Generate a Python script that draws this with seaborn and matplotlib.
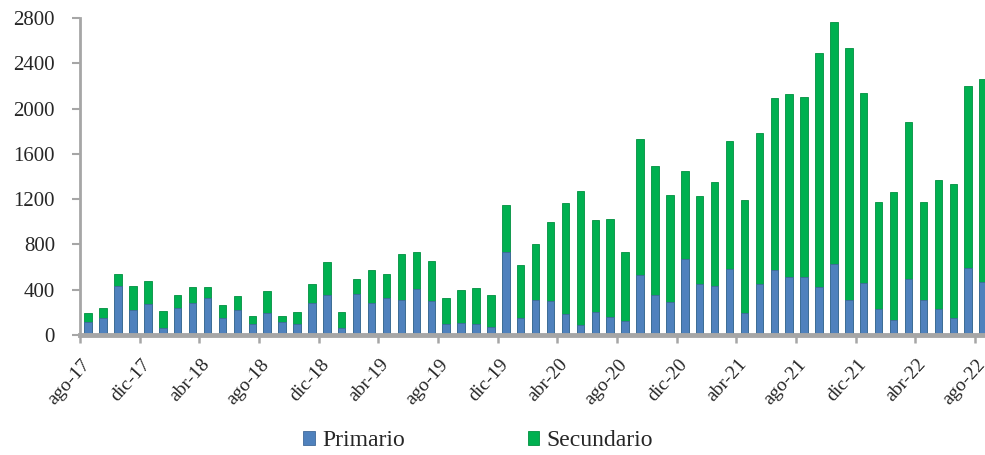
import numpy as np
import pandas as pd
import matplotlib
matplotlib.use("Agg")
import matplotlib.pyplot as plt
import seaborn as sns

sns.set_style("white")
plt.rcParams["font.family"] = ["Liberation Serif", "DejaVu Serif"]

# meses jul-17 ... ago-22 (el primero queda casi oculto tras el eje)
meses = ["ene", "feb", "mar", "abr", "may", "jun", "jul", "ago", "sep", "oct", "nov", "dic"]
fechas = [f"{meses[(6 + i) % 12]}-{17 + (6 + i) // 12}" for i in range(62)]

primario = [350, 112, 147, 436, 221, 274, 59, 241, 285, 330, 147, 221, 97, 197, 118, 94,
            280, 353, 65, 362, 283, 324, 309, 403, 303, 94, 103, 94, 74, 736, 147, 309,
            303, 186, 88, 200, 156, 127, 527, 353, 294, 671, 450, 436, 583, 191, 447, 574,
            509, 515, 421, 627, 309, 456, 227, 133, 495, 309, 230, 147, 595, 465]
secundario = [357, 79, 94, 103, 212, 206, 153, 112, 136, 97, 118, 124, 71, 195, 53, 112,
              167, 289, 138, 131, 294, 213, 406, 333, 354, 230, 294, 324, 279, 412, 471, 495,
              698, 977, 1187, 816, 869, 609, 1204, 1140, 940, 778, 781, 915, 1133, 999, 1334, 1522,
              1617, 1590, 2073, 2138, 2226, 1684, 948, 1130, 1386, 869, 1139, 1187, 1605, 1793]

azul = "#4F81BD"
verde = "#00B050"
gris = "#a6a6a6"

df = pd.DataFrame({"fecha": fechas, "Primario": primario, "Secundario": secundario})
df["Total"] = df["Primario"] + df["Secundario"]

fig = plt.figure(figsize=(9.85, 4.55), dpi=100)
ax = fig.add_axes([80 / 985, 1 - 335 / 455, 1 - 80 / 985, (335 - 18) / 455])

sns.barplot(data=df, x="fecha", y="Total", order=fechas, color=verde, saturation=1,
            width=0.5, ax=ax, label="Secundario", edgecolor="#00903f", linewidth=0.6)
sns.barplot(data=df, x="fecha", y="Primario", order=fechas, color=azul, saturation=1,
            width=0.5, ax=ax, label="Primario", edgecolor="#41699a", linewidth=0.6)

ax.set_xlim(0.45, 61.13)
ax.set_ylim(0, 2800)
ax.set_yticks(range(0, 2801, 400))
ax.set_xlabel("")
ax.set_ylabel("")

# marcas cada 4 meses (entre barras) y etiquetas como ticks menores
tick_idx = list(range(1, 62, 4))
ax.set_xticks([i - 0.55 for i in tick_idx], labels=[""] * len(tick_idx))
ax.set_xticks([i - 0.45 for i in tick_idx], labels=[fechas[i] for i in tick_idx], minor=True)
for lab in ax.get_xticklabels(minor=True):
    lab.set_rotation(48)
    lab.set_ha("right")
    lab.set_va("top")
    lab.set_rotation_mode("anchor")

ax.tick_params(axis="x", which="major", bottom=True, length=6, width=1.8, color=gris)
ax.tick_params(axis="x", which="minor", bottom=True, length=0, pad=15, labelsize=14)
ax.tick_params(axis="y", left=True, length=6, width=1.5, color=gris, pad=12, labelsize=15)

for s in ["top", "right"]:
    ax.spines[s].set_visible(False)
ax.spines["left"].set_color(gris)
ax.spines["left"].set_linewidth(2)
ax.spines["bottom"].set_color(gris)
ax.spines["bottom"].set_linewidth(3.5)

h, l = ax.get_legend_handles_labels()
orden = [l.index("Primario"), l.index("Secundario")]
if ax.get_legend() is not None:
    ax.get_legend().remove()
fig.legend([h[i] for i in orden], [l[i] for i in orden], loc="center",
           bbox_to_anchor=(478 / 985, 1 - 441 / 455), ncol=2, frameon=False,
           fontsize=17, handlelength=0.5, handleheight=0.5, handletextpad=0.3,
           columnspacing=5.2)

fig.savefig("out.png", dpi=100)
